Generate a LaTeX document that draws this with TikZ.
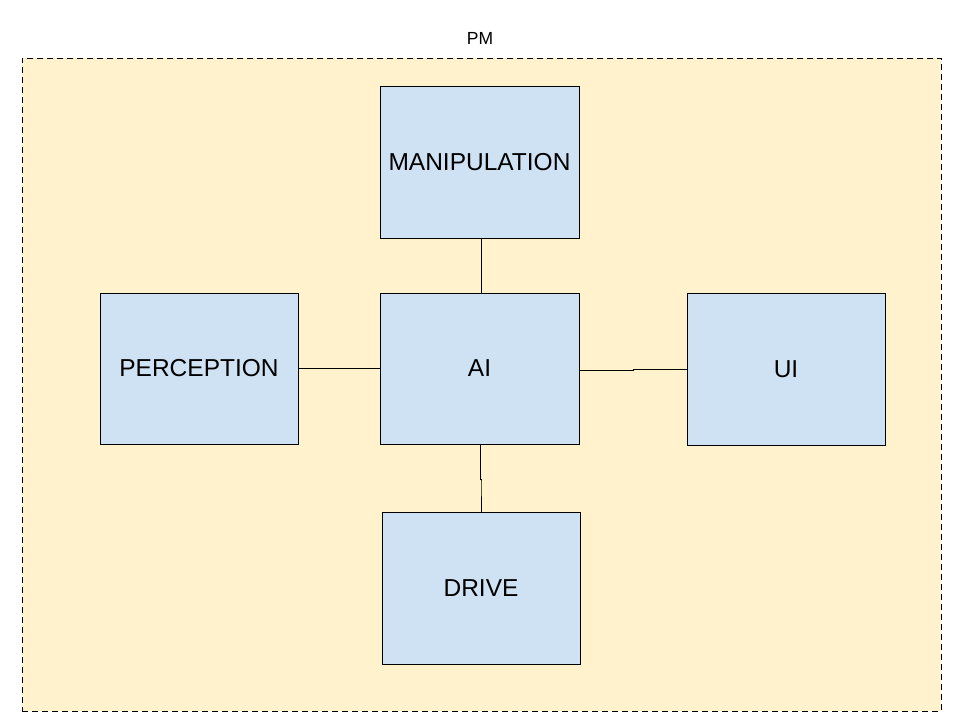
\documentclass[tikz,border=0pt]{standalone}
\usepackage{fontspec}
\setmainfont{Liberation Sans}
\definecolor{pmfill}{HTML}{FFF2CC}
\definecolor{boxfill}{HTML}{CFE2F3}
\begin{document}
\begin{tikzpicture}[x=1pt,y=-1pt,
  blk/.style={draw=black,line width=0.9pt,fill=boxfill,inner sep=0pt,font=\fontsize{24.5}{28}\selectfont},
  conn/.style={draw=black,line width=1pt}]
\useasboundingbox (0,0) rectangle (960,720);
\node[draw=black,line width=0.8pt,dash pattern=on 6pt off 4pt,fill=pmfill,inner sep=0pt,minimum width=919pt,minimum height=653pt,anchor=north west] (pm) at (22,58) {};
\node[font=\fontsize{17.5}{20}\selectfont] (pmlabel) at (480,38) {PM};
\node[blk,minimum width=199pt,minimum height=152pt] (manip) at (479.5,162) {\raisebox{-1pt}{MANIPULATION}};
\node[blk,minimum width=198pt,minimum height=151pt] (perc) at (199,368.5) {\raisebox{-1pt}{PERCEPTION}};
\node[blk,minimum width=199pt,minimum height=151pt] (ai) at (479.5,368.5) {\raisebox{-1pt}{AI}};
\node[blk,minimum width=198pt,minimum height=152pt] (ui) at (786,369) {\raisebox{-1pt}{UI}};
\node[blk,minimum width=198pt,minimum height=152pt] (drive) at (481,588) {\raisebox{-1pt}{DRIVE}};
\coordinate (j1) at (633,370);
\coordinate (j2) at (633,369);
\coordinate (k1) at (480,479);
\coordinate (k2) at (481,481);
\draw[conn] (manip.south -| 481,0) -- (ai.north -| 481,0);
\draw[conn] (perc.east) -- (ai.west);
\draw[conn] (ai.east |- j1) -- (j1) -- (j2) -- (ui.west |- j2);
\draw[conn] (ai.south -| k1) -- (k1) -- (k2 |- k1) -- (k2) -- (drive.north -| k2);
\end{tikzpicture}
\end{document}
